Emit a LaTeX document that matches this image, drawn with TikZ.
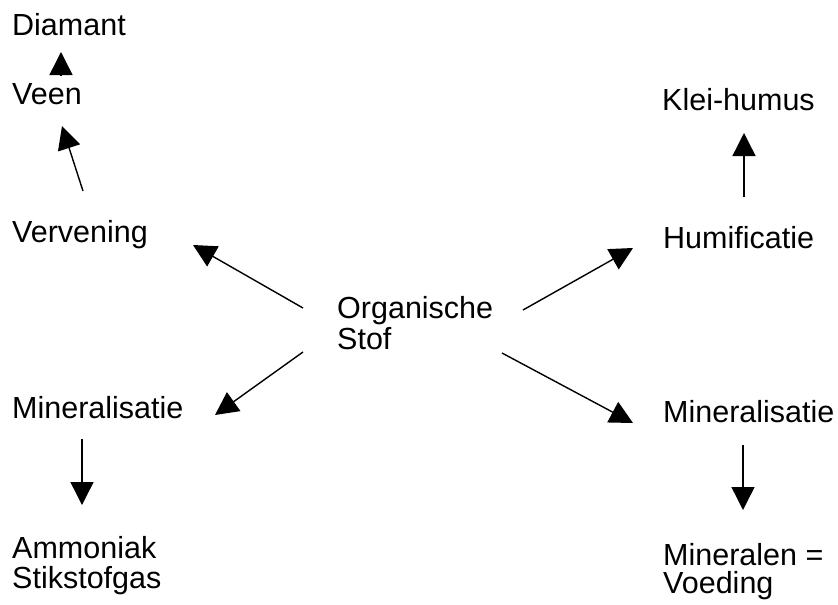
\documentclass[tikz,border=0pt]{standalone}
\usepackage{fontspec}
\setmainfont{Liberation Sans}
\usetikzlibrary{arrows.meta,calc}
\tikzset{
  lbl/.style={anchor=base west, inner sep=0pt, align=left, font=\fontsize{30.5}{30}\selectfont},
  arr/.style={line width=1.4pt, -{Triangle[length=23pt,width=23pt]}},
}
\begin{document}
\begin{tikzpicture}[x=1pt,y=-1pt]
\useasboundingbox (0,0) rectangle (838,605);
\node[lbl] (diam) at (12,35) {Diamant};
\node[lbl] (veen) at (12,104) {Veen};
\node[lbl] (verv) at (12,242) {Vervening};
\node[lbl] (org) at (337,349) {Organische\\[1pt]Stof};
\node[lbl] (klei) at (662,110) {Klei-humus};
\node[lbl] (humi) at (663,248) {Humificatie};
\node[lbl] (minL) at (12,418) {Mineralisatie};
\node[lbl] (amm) at (12,588) {Ammoniak\\Stikstofgas};
\node[lbl] (minR) at (663,422) {Mineralisatie};
\node[lbl] (minv) at (663,593) {Mineralen =\\[-2pt]Voeding};

\draw[arr] ($(veen.base west)+(49,-28)$) -- ($(diam.base west)+(49,17)$);
\draw[arr] ($(verv.base west)+(71,-51)$) -- ($(veen.base west)+(50,22)$);
\draw[arr] ($(org.base west)+(-34,-41)$) -- ($(verv.base west)+(181,3)$);
\draw[arr] ($(org.base west)+(186,-39)$) -- ($(humi.base west)+(-30,0)$);
\draw[arr] ($(org.base west)+(-34,3)$) -- ($(minL.base west)+(203,-3)$);
\draw[arr] ($(org.base west)+(165,4)$) -- ($(minR.base west)+(-30,1)$);
\draw[arr] ($(humi.base west)+(81,-51)$) -- ($(klei.base west)+(82,23)$);
\draw[arr] ($(minL.base west)+(70,21)$) -- ($(amm.base west)+(70,-83)$);
\draw[arr] ($(minR.base west)+(80,23)$) -- ($(minv.base west)+(80,-83)$);
\end{tikzpicture}
\end{document}
